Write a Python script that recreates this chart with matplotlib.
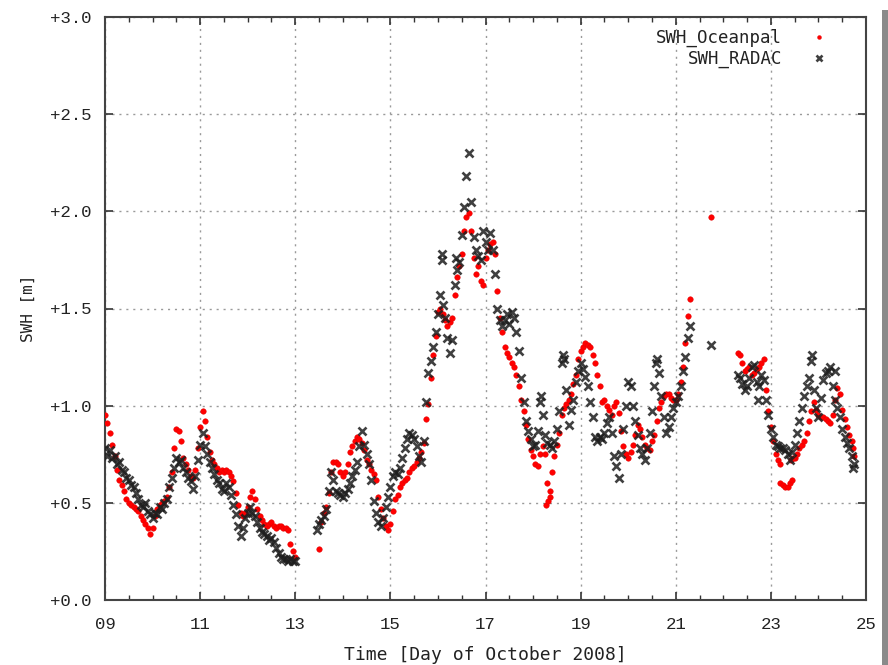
import numpy as np
import matplotlib
matplotlib.use("Agg")
import matplotlib.pyplot as plt
from matplotlib.ticker import MultipleLocator, FuncFormatter
from matplotlib.patches import Rectangle

# ---------------- data ----------------
# SWH_RADAC segments: (start day, end day, values at even spacing)
radac_a_span = (9.00, 13.00)
radac_a = [0.78, 0.74, 0.77, 0.73, 0.74, 0.70, 0.71, 0.67, 0.66, 0.63, 0.62, 0.59, 0.58, 0.55, 0.52, 0.49,
           0.48, 0.50, 0.46, 0.44, 0.42, 0.45, 0.44, 0.48, 0.47, 0.50, 0.52, 0.58, 0.63, 0.68, 0.73, 0.71,
           0.72, 0.68, 0.66, 0.63, 0.61, 0.57, 0.64, 0.72, 0.80, 0.86, 0.79, 0.75, 0.71, 0.68, 0.65, 0.62,
           0.60, 0.57, 0.56, 0.60, 0.58, 0.54, 0.49, 0.44, 0.38, 0.33, 0.37, 0.42, 0.45, 0.48, 0.45, 0.43,
           0.40, 0.37, 0.35, 0.34, 0.33, 0.31, 0.32, 0.30, 0.27, 0.24, 0.22, 0.21, 0.21, 0.20, 0.21, 0.20, 0.20]
radac_b_span = (13.45, 17.60)
radac_b = [0.36, 0.39, 0.41, 0.43, 0.47, 0.56, 0.66, 0.62, 0.56, 0.55, 0.54, 0.53, 0.55, 0.57, 0.60, 0.64,
           0.67, 0.71, 0.79, 0.87, 0.80, 0.75, 0.70, 0.62, 0.51, 0.45, 0.40, 0.38, 0.42, 0.48, 0.53, 0.58,
           0.64, 0.66, 0.65, 0.68, 0.73, 0.78, 0.83, 0.86, 0.85, 0.83, 0.79, 0.74, 0.71, 0.82, 1.02, 1.17,
           1.23, 1.30, 1.38, 1.47, 1.57, 1.52, 1.45, 1.35, 1.27, 1.34, 1.62, 1.70, 1.74, 1.88, 2.02, 2.18,
           2.30, 2.05, 1.87, 1.80, 1.77, 1.75, 1.90, 1.84, 1.80, 1.89, 1.80, 1.68, 1.50, 1.44, 1.41, 1.44,
           1.47, 1.42, 1.48, 1.45]
radac_c_span = (17.65, 21.30)
radac_c = [1.38, 1.28, 1.14, 1.02, 0.92, 0.87, 0.83, 0.79, 0.80, 0.87, 1.02, 0.95, 0.85, 0.81, 0.80, 0.78,
           0.82, 0.88, 0.97, 1.22, 1.24, 1.08, 0.90, 0.98, 1.03, 1.12, 1.18, 1.22, 1.19, 1.15, 1.10, 1.02,
           0.94, 0.84, 0.82, 0.84, 0.83, 0.86, 0.91, 0.94, 0.86, 0.74, 0.69, 0.63, 0.75, 0.88, 1.00, 1.12,
           1.10, 1.00, 0.92, 0.85, 0.78, 0.75, 0.72, 0.78, 0.86, 0.97, 1.10, 1.24, 1.17, 1.05, 0.94, 0.86,
           0.89, 0.94, 0.99, 1.02, 1.05, 1.10, 1.18, 1.25, 1.35, 1.41]
radac_d_span = (22.30, 24.75)
radac_d = [1.16, 1.14, 1.11, 1.08, 1.10, 1.14, 1.20, 1.21, 1.12, 1.10, 1.16, 1.13, 1.03, 0.95, 0.88, 0.84,
           0.80, 0.79, 0.78, 0.78, 0.77, 0.75, 0.72, 0.76, 0.80, 0.86, 0.92, 0.99, 1.05, 1.10, 1.14, 1.23,
           1.08, 0.99, 0.94, 1.04, 1.13, 1.17, 1.18, 1.20, 1.10, 1.03, 0.99, 0.94, 0.88, 0.84, 0.81, 0.78,
           0.74, 0.70]
radac_extra_t = [16.08, 16.09, 16.37, 18.16, 18.62, 20.58, 21.74, 22.72, 24.35, 23.86, 24.72]
radac_extra_v = [1.78, 1.75, 1.76, 1.05, 1.26, 1.22, 1.31, 1.03, 1.18, 1.26, 0.68]

# SWH_Oceanpal segments
ocean_a_span = (9.00, 13.00)
ocean_a = [0.95, 0.91, 0.86, 0.80, 0.74, 0.67, 0.62, 0.59, 0.56, 0.52, 0.50, 0.49, 0.48, 0.47, 0.46, 0.43,
           0.41, 0.39, 0.37, 0.34, 0.37, 0.43, 0.47, 0.49, 0.50, 0.51, 0.53, 0.58, 0.66, 0.78, 0.88, 0.87,
           0.82, 0.73, 0.70, 0.67, 0.64, 0.63, 0.67, 0.78, 0.89, 0.97, 0.92, 0.84, 0.76, 0.72, 0.70, 0.68,
           0.66, 0.67, 0.66, 0.67, 0.66, 0.64, 0.61, 0.55, 0.49, 0.45, 0.43, 0.45, 0.48, 0.53, 0.56, 0.52,
           0.47, 0.43, 0.41, 0.39, 0.38, 0.39, 0.40, 0.38, 0.37, 0.38, 0.38, 0.37, 0.37, 0.36, 0.29, 0.25, 0.22]
ocean_b_span = (13.50, 17.60)
ocean_b = [0.26, 0.40, 0.45, 0.48, 0.55, 0.66, 0.71, 0.71, 0.70, 0.66, 0.64, 0.66, 0.70, 0.76, 0.79, 0.82,
           0.84, 0.83, 0.81, 0.77, 0.72, 0.70, 0.67, 0.65, 0.62, 0.53, 0.47, 0.42, 0.38, 0.36, 0.39, 0.46,
           0.52, 0.54, 0.58, 0.60, 0.62, 0.63, 0.66, 0.68, 0.69, 0.71, 0.73, 0.76, 0.81, 0.93, 1.01, 1.14,
           1.26, 1.36, 1.48, 1.50, 1.47, 1.44, 1.41, 1.43, 1.45, 1.57, 1.66, 1.72, 1.78, 1.90, 1.97, 1.99,
           1.90, 1.76, 1.68, 1.72, 1.64, 1.62, 1.76, 1.80, 1.83, 1.84, 1.78, 1.59, 1.45, 1.38, 1.30, 1.27,
           1.25, 1.22, 1.20]
ocean_c_span = (17.65, 21.30)
ocean_c = [1.16, 1.10, 1.03, 0.97, 0.90, 0.83, 0.77, 0.74, 0.70, 0.69, 0.75, 0.79, 0.75, 0.60, 0.53, 0.66,
           0.74, 0.80, 0.86, 0.95, 0.99, 1.01, 1.03, 1.06, 1.11, 1.16, 1.24, 1.28, 1.30, 1.32, 1.31, 1.30,
           1.26, 1.22, 1.16, 1.10, 1.02, 1.03, 1.00, 0.98, 0.95, 1.00, 1.02, 0.96, 0.87, 0.79, 0.75, 0.73,
           0.76, 0.80, 0.85, 0.90, 0.88, 0.84, 0.80, 0.78, 0.77, 0.82, 0.85, 0.92, 0.99, 1.02, 1.05, 1.06,
           1.06, 1.04, 1.03, 1.03, 1.06, 1.12, 1.20, 1.32, 1.46, 1.55]
ocean_d_span = (22.30, 24.75)
ocean_d = [1.27, 1.26, 1.22, 1.18, 1.19, 1.20, 1.16, 1.17, 1.19, 1.20, 1.22, 1.24, 1.08, 0.97, 0.89, 0.82,
           0.75, 0.72, 0.60, 0.59, 0.58, 0.58, 0.60, 0.62, 0.73, 0.75, 0.78, 0.80, 0.82, 0.86, 0.92, 0.97,
           1.02, 0.98, 0.95, 0.94, 0.94, 0.93, 0.92, 0.91, 0.95, 1.03, 1.09, 1.06, 0.98, 0.93, 0.89, 0.85,
           0.82, 0.74]
ocean_extra_t = [18.28, 18.32, 18.36, 21.74, 23.42, 23.46, 23.20, 24.72]
ocean_extra_v = [0.49, 0.51, 0.56, 1.97, 0.72, 0.73, 0.70, 0.78]

x_ticks = [9, 11, 13, 15, 17, 19, 21, 23, 25]
y_ticks = [0.0, 0.5, 1.0, 1.5, 2.0, 2.5, 3.0]


def assemble(segments, extra_t, extra_v):
    ts, vs = [], []
    for span, vals in segments:
        ts.append(np.linspace(span[0], span[1], len(vals)))
        vs.append(np.asarray(vals, dtype=float))
    ts.append(np.asarray(extra_t, dtype=float))
    vs.append(np.asarray(extra_v, dtype=float))
    return np.concatenate(ts), np.concatenate(vs)


t_ocean, v_ocean = assemble([(ocean_a_span, ocean_a), (ocean_b_span, ocean_b),
                             (ocean_c_span, ocean_c), (ocean_d_span, ocean_d)],
                            ocean_extra_t, ocean_extra_v)
t_radac, v_radac = assemble([(radac_a_span, radac_a), (radac_b_span, radac_b),
                             (radac_c_span, radac_c), (radac_d_span, radac_d)],
                            radac_extra_t, radac_extra_v)

# ---------------- figure ----------------
W, H = 888, 665
fig = plt.figure(figsize=(W / 100, H / 100), dpi=100)
fig.patch.set_facecolor("white")
fig.patches.append(Rectangle((882 / W, 0), 6 / W, 655 / H, transform=fig.transFigure,
                             facecolor="#8a8a8a", edgecolor="none"))

ax = fig.add_axes([105 / W, (H - 600) / H, 761 / W, 583 / H])
tick_font = "Liberation Mono"
lab_font = "DejaVu Sans Mono"

ax.plot(t_ocean, v_ocean, linestyle="none", marker="o", markersize=4.0,
        markerfacecolor="#ff0000", markeredgecolor="#e00000", markeredgewidth=0.3,
        label="SWH_Oceanpal", zorder=3)
ax.plot(t_radac, v_radac, linestyle="none", marker="x", markersize=5.5,
        color="#1e1e1e", markeredgewidth=1.9, alpha=0.85, label="SWH_RADAC", zorder=4)

ax.set_xlim(9, 25)
ax.set_ylim(0, 3)
ax.set_xticks(x_ticks)
ax.set_yticks(y_ticks)
ax.xaxis.set_minor_locator(MultipleLocator(0.5))
ax.xaxis.set_major_formatter(FuncFormatter(lambda v, p: f"{int(round(v)):02d}"))
ax.yaxis.set_major_formatter(FuncFormatter(lambda v, p: f"+{v:.1f}"))

ax.grid(True, which="major", linestyle=(0, (1.5, 3.5)), color="#9a9a9a", linewidth=1.0)
ax.tick_params(axis="both", which="major", direction="in", length=6, width=1.2,
               color="#333333", top=True, right=True, labelsize=12.5, labelcolor="#222222")
ax.tick_params(axis="x", which="major", pad=12)
ax.tick_params(axis="y", which="major", pad=10)
ax.tick_params(axis="x", which="minor", direction="in", length=3.5, width=1.0,
               color="#333333", top=True, bottom=True)
for lab in ax.get_xticklabels() + ax.get_yticklabels():
    lab.set_fontfamily(tick_font)
for s in ax.spines.values():
    s.set_color("#444444")
    s.set_linewidth(1.5)

ax.set_xlabel("Time [Day of October 2008]", fontfamily=lab_font, fontsize=13,
              color="#222222", labelpad=10)
ax.set_ylabel("SWH [m]", fontfamily=lab_font, fontsize=11.5, color="#222222", labelpad=10)

leg = ax.legend(loc="upper right", markerfirst=False, frameon=False, alignment="right",
                prop={"family": lab_font, "size": 12.5}, handletextpad=1.6,
                handlelength=1.0, labelspacing=0.15, borderaxespad=0.3,
                bbox_to_anchor=(0.965, 1.0), markerscale=0.7)
for txt in leg.get_texts():
    txt.set_color("#222222")

fig.savefig("out.png", dpi=100, facecolor="white")
